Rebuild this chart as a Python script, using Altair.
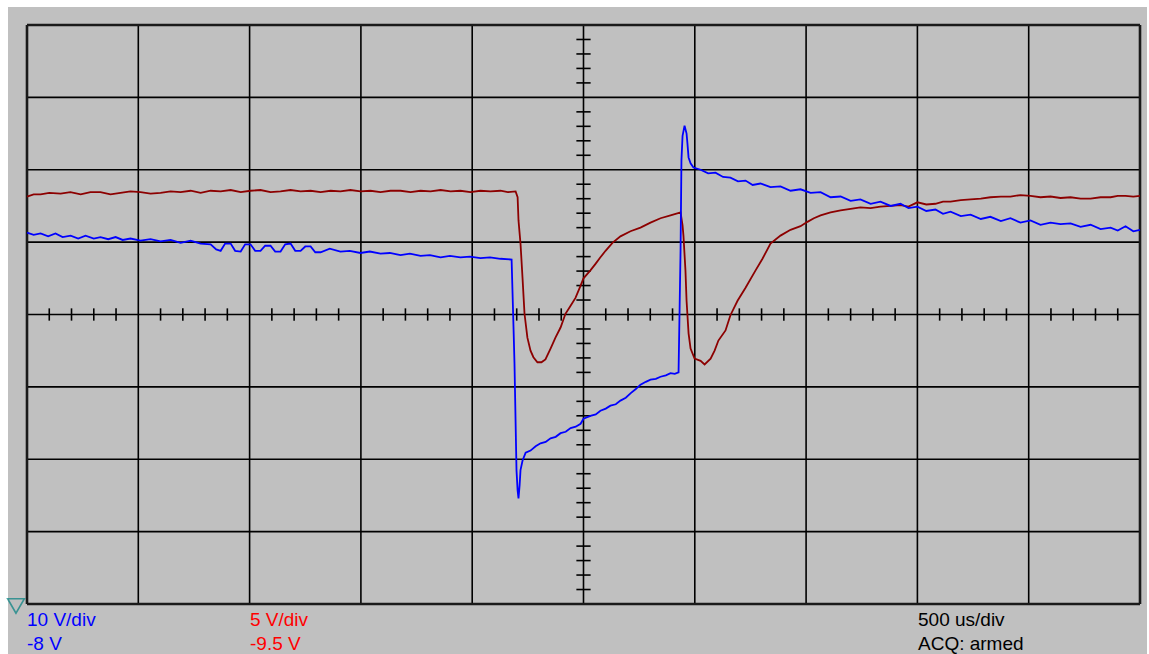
import altair as alt
import pandas as pd

# Scope settings (10 divisions x 500 us, 8 vertical divisions)
TIME_SPAN_US = [-2500, 2500]
DIV_SPAN = [-4, 4]

# Channel 1 (blue, 10 V/div): time in us, position in divisions
BLUE_T = [-2500, -2470, -2439, -2405, -2372, -2340, -2304, -2270, -2237, -2200,
          -2170, -2135, -2102, -2070, -2035, -1990, -1945, -1900, -1855, -1810,
          -1765, -1720, -1675, -1650, -1630, -1610, -1585, -1565, -1540, -1520,
          -1496, -1475, -1451, -1430, -1406, -1385, -1361, -1340, -1316, -1295,
          -1271, -1250, -1226, -1205, -1181, -1140, -1092, -1050, -1002, -960,
          -912, -870, -822, -780, -732, -690, -642, -600, -553, -510,
          -463, -420, -373, -323, -314, -310, -301, -296, -292, -287,
          -283, -274, -260, -238, -215, -193, -170, -148, -125, -103,
          -80, -58, -35, -13, 0, 31, 55, 76, 100, 121,
          145, 166, 190, 211, 235, 256, 280, 301, 325, 346,
          370, 391, 410, 427, 436, 440, 445, 454, 463, 467,
          472, 481, 494, 526, 560, 593, 627, 660, 694, 728,
          760, 795, 840, 885, 930, 975, 1020, 1065, 1110, 1155,
          1200, 1244, 1290, 1334, 1380, 1424, 1460, 1500, 1540, 1581,
          1615, 1649, 1695, 1739, 1785, 1828, 1875, 1918, 1963, 2008,
          2053, 2098, 2143, 2188, 2233, 2278, 2323, 2368, 2400, 2435,
          2470, 2500]
BLUE_DIV = [1.13, 1.10, 1.12, 1.08, 1.12, 1.07, 1.09, 1.05, 1.09, 1.05,
            1.07, 1.04, 1.07, 1.03, 1.05, 1.02, 1.04, 1.01, 1.03, 0.99,
            1.02, 0.98, 0.97, 0.90, 0.88, 0.98, 0.98, 0.88, 0.87, 0.97,
            0.97, 0.88, 0.88, 0.95, 0.95, 0.87, 0.87, 0.97, 0.98, 0.88,
            0.88, 0.94, 0.94, 0.86, 0.86, 0.91, 0.87, 0.88, 0.85, 0.87,
            0.84, 0.85, 0.82, 0.84, 0.81, 0.82, 0.79, 0.81, 0.79, 0.80,
            0.78, 0.79, 0.77, 0.76, -0.22, -0.68, -2.15, -2.43, -2.54, -2.36,
            -2.15, -2.02, -1.91, -1.88, -1.82, -1.78, -1.76, -1.71, -1.69, -1.64,
            -1.62, -1.57, -1.55, -1.51, -1.44, -1.40, -1.38, -1.33, -1.30, -1.26,
            -1.24, -1.19, -1.15, -1.09, -1.03, -0.97, -0.93, -0.90, -0.89, -0.86,
            -0.84, -0.81, -0.82, -0.80, 0.88, 2.13, 2.47, 2.61, 2.50, 2.36,
            2.17, 2.09, 2.03, 2.00, 1.95, 1.96, 1.90, 1.89, 1.84, 1.85,
            1.79, 1.81, 1.76, 1.77, 1.71, 1.73, 1.68, 1.69, 1.62, 1.63,
            1.57, 1.59, 1.53, 1.56, 1.50, 1.53, 1.47, 1.49, 1.43, 1.45,
            1.39, 1.42, 1.36, 1.38, 1.32, 1.35, 1.29, 1.33, 1.27, 1.30,
            1.24, 1.27, 1.25, 1.26, 1.21, 1.24, 1.18, 1.20, 1.16, 1.22,
            1.15, 1.17]

# Channel 2 (red, 5 V/div): time in us, position in divisions
RED_T = [-2500, -2470, -2439, -2400, -2349, -2305, -2259, -2215, -2170, -2125,
         -2080, -2035, -1990, -1945, -1900, -1855, -1810, -1765, -1720, -1675,
         -1630, -1585, -1540, -1496, -1451, -1406, -1361, -1316, -1271, -1226,
         -1181, -1136, -1092, -1047, -1002, -957, -912, -867, -822, -777,
         -732, -687, -642, -597, -553, -508, -463, -418, -373, -340,
         -305, -296, -292, -283, -274, -265, -252, -238, -225, -207,
         -189, -171, -148, -126, -103, -81, -58, -36, -13, 0,
         31, 54, 76, 99, 130, 166, 211, 256, 301, 346,
         391, 436, 445, 449, 458, 463, 472, 481, 499, 526,
         544, 571, 589, 606, 638, 660, 692, 728, 773, 804,
         840, 885, 930, 975, 1006, 1035, 1065, 1110, 1155, 1200,
         1244, 1290, 1334, 1380, 1424, 1460, 1500, 1540, 1581, 1615,
         1649, 1695, 1739, 1785, 1828, 1875, 1918, 1963, 2008, 2053,
         2098, 2143, 2188, 2233, 2278, 2323, 2368, 2400, 2435, 2470,
         2500]
RED_DIV = [1.63, 1.66, 1.66, 1.68, 1.67, 1.69, 1.66, 1.69, 1.69, 1.66,
           1.68, 1.70, 1.69, 1.67, 1.68, 1.70, 1.69, 1.71, 1.68, 1.71,
           1.70, 1.72, 1.69, 1.71, 1.72, 1.69, 1.70, 1.72, 1.70, 1.71,
           1.69, 1.71, 1.70, 1.72, 1.70, 1.71, 1.69, 1.71, 1.71, 1.69,
           1.71, 1.70, 1.72, 1.70, 1.71, 1.69, 1.71, 1.70, 1.71, 1.69,
           1.70, 1.62, 1.30, 0.98, 0.51, 0.01, -0.32, -0.50, -0.59, -0.66,
           -0.66, -0.62, -0.47, -0.32, -0.18, 0.01, 0.12, 0.23, 0.40, 0.50,
           0.61, 0.70, 0.79, 0.88, 0.99, 1.08, 1.15, 1.20, 1.27, 1.33,
           1.37, 1.41, 1.23, 1.09, 0.61, 0.19, -0.26, -0.47, -0.61, -0.64,
           -0.69, -0.61, -0.50, -0.36, -0.22, -0.01, 0.19, 0.37, 0.61, 0.77,
           0.98, 1.09, 1.17, 1.22, 1.28, 1.33, 1.37, 1.41, 1.44, 1.46,
           1.48, 1.47, 1.49, 1.50, 1.51, 1.49, 1.55, 1.52, 1.53, 1.56,
           1.56, 1.58, 1.59, 1.60, 1.62, 1.63, 1.63, 1.65, 1.64, 1.62,
           1.63, 1.61, 1.62, 1.60, 1.60, 1.62, 1.62, 1.64, 1.64, 1.63,
           1.64]

# Readout text
READOUTS = [
    ("10 V/div", 0, 601, "#0000ff"),
    ("-8 V", 0, 625, "#0000ff"),
    ("5 V/div", 223, 601, "#ff0000"),
    ("-9.5 V", 223, 625, "#ff0000"),
    ("500 us/div", 891, 601, "#000000"),
    ("ACQ: armed", 891, 625, "#000000"),
]

W, H = 1113, 579
xs = alt.Scale(domain=TIME_SPAN_US, nice=False, zero=False)
ys = alt.Scale(domain=DIV_SPAN, nice=False, zero=False)

one = pd.DataFrame({"k": [0]})

panel = alt.Chart(one).mark_rect(color="#c0c0c0").encode(
    x=alt.value(-19), x2=alt.value(1120), y=alt.value(-18), y2=alt.value(629)
)

# Graticule
inner_t = [t for t in range(-2500, 2501, 500) if abs(t) != 2500]
inner_d = [d for d in range(-4, 5) if abs(d) != 4]
grid_v = alt.Chart(pd.DataFrame({"t": inner_t})).mark_rule(
    color="#000000", strokeWidth=1.6).encode(x=alt.X("t:Q", scale=xs, axis=None))
grid_h = alt.Chart(pd.DataFrame({"d": inner_d})).mark_rule(
    color="#000000", strokeWidth=1.6).encode(y=alt.Y("d:Q", scale=ys, axis=None))
frame_v = alt.Chart(pd.DataFrame({"t": TIME_SPAN_US})).mark_rule(
    color="#1a1a1a", strokeWidth=2.6).encode(x=alt.X("t:Q", scale=xs, axis=None))
frame_h = alt.Chart(pd.DataFrame({"d": DIV_SPAN})).mark_rule(
    color="#1a1a1a", strokeWidth=2.6).encode(y=alt.Y("d:Q", scale=ys, axis=None))

# Minor ticks on the centre cross
ydivs = [k / 5 for k in range(-20, 21) if k % 5 != 0]
minor_y = pd.DataFrame({"d": ydivs, "a": [-32] * len(ydivs), "b": [32] * len(ydivs)})
tdivs = [k * 100 for k in range(-25, 26) if k % 5 != 0]
minor_x = pd.DataFrame({"t": tdivs, "lo": [-0.085] * len(tdivs), "hi": [0.085] * len(tdivs)})
ticks_y = alt.Chart(minor_y).mark_rule(color="#000000", strokeWidth=1.6).encode(
    y=alt.Y("d:Q", scale=ys, axis=None),
    x=alt.X("a:Q", scale=xs, axis=None), x2="b:Q")
ticks_x = alt.Chart(minor_x).mark_rule(color="#000000", strokeWidth=1.6).encode(
    x=alt.X("t:Q", scale=xs, axis=None),
    y=alt.Y("lo:Q", scale=ys, axis=None), y2="hi:Q")

red_df = pd.DataFrame({"t": RED_T, "v": RED_DIV, "i": range(len(RED_T))})
blue_df = pd.DataFrame({"t": BLUE_T, "v": BLUE_DIV, "i": range(len(BLUE_T))})

red = alt.Chart(red_df).mark_line(color="#8c0000", strokeWidth=1.8).encode(
    x=alt.X("t:Q", scale=xs, axis=None), y=alt.Y("v:Q", scale=ys, axis=None), order="i:Q")
blue = alt.Chart(blue_df).mark_line(color="#0000ff", strokeWidth=1.8).encode(
    x=alt.X("t:Q", scale=xs, axis=None), y=alt.Y("v:Q", scale=ys, axis=None), order="i:Q")

texts = []
for label, px, py, col in READOUTS:
    texts.append(
        alt.Chart(one).mark_text(
            text=label, align="left", baseline="alphabetic", font="Liberation Sans",
            fontSize=19, color=col,
        ).encode(x=alt.value(px), y=alt.value(py))
    )

trigger = alt.Chart(one).mark_point(
    shape="triangle-down", filled=False, color="#008080", size=280, strokeWidth=1.6
).encode(x=alt.value(-11), y=alt.value(581))

chart = alt.layer(
    panel, grid_v, grid_h, ticks_y, ticks_x, frame_v, frame_h, red, blue, trigger, *texts
).properties(
    width=W, height=H,
    padding={"left": 27, "top": 25, "right": 9, "bottom": 50},
    autosize=alt.AutoSizeParams(type="none"),
    background="#ffffff",
).configure_view(stroke=None)

chart.save("out.html", embed_options={"renderer": "svg", "actions": False})
